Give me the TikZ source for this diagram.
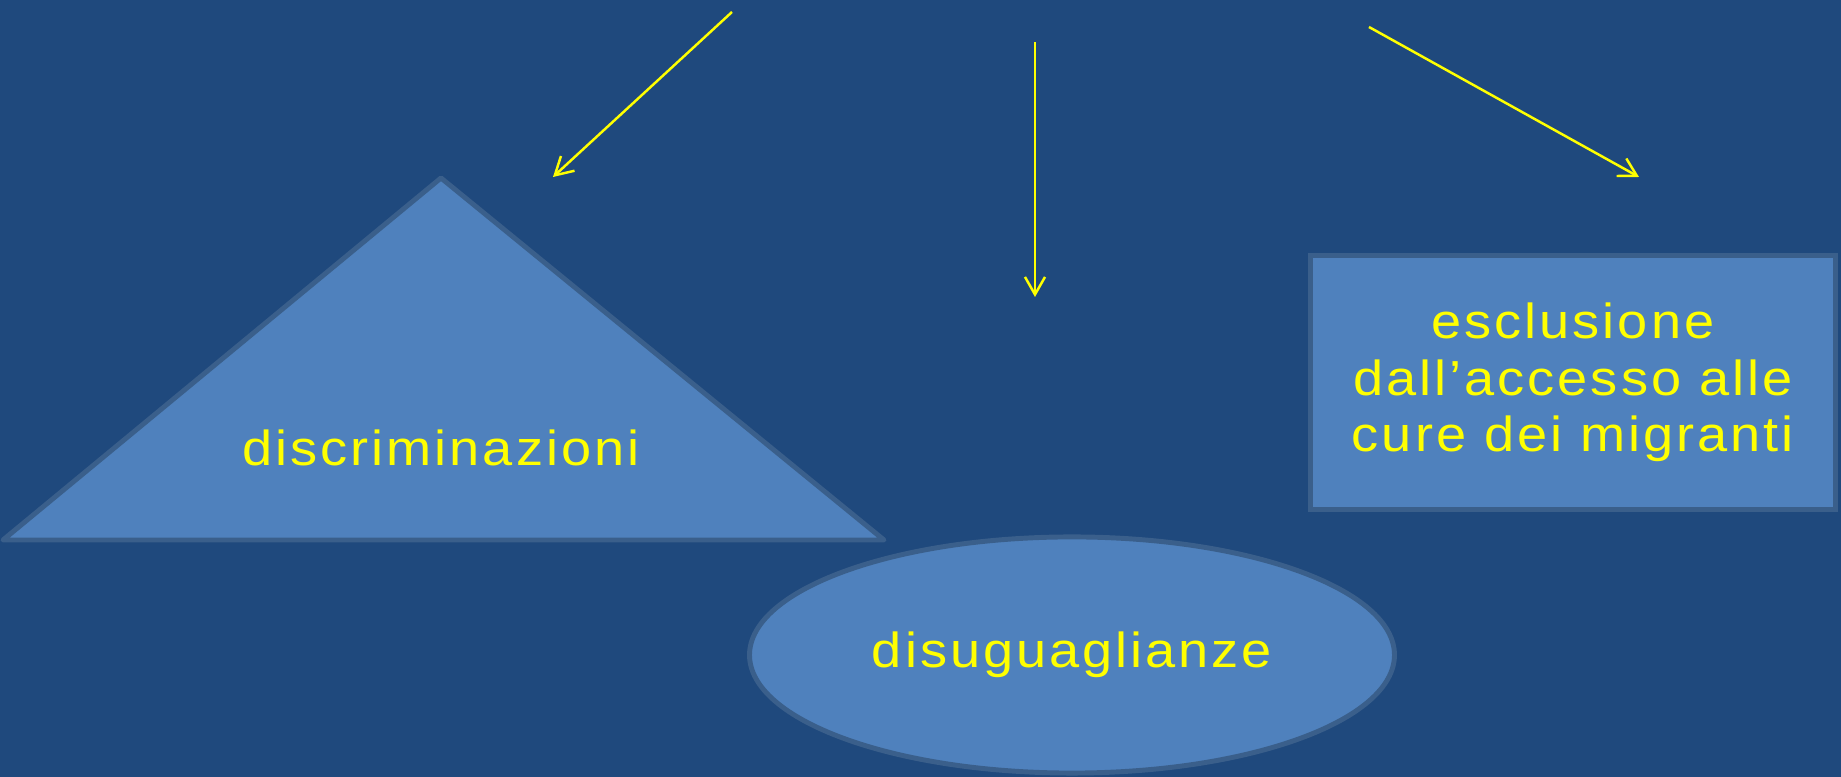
\documentclass[tikz,border=0pt]{standalone}
\usepackage{fontspec}
\setmainfont{Liberation Sans}[LetterSpace=5.5]
\usetikzlibrary{shapes.geometric,arrows.meta}

\definecolor{slidebg}{HTML}{1F497D}
\definecolor{shapefill}{HTML}{4F81BD}
\definecolor{shapeline}{HTML}{3A5F8B}
\definecolor{textyellow}{HTML}{FFFF00}

\begin{document}
\begin{tikzpicture}[x=0.01cm,y=-0.01cm,
  shapebody/.style={fill=shapefill,draw=shapeline,line width=1.4pt},
  slidetext/.style={text=textyellow,font=\fontsize{14}{16.1}\selectfont,xscale=1.1},
  pointer/.style={draw=textyellow,line width=0.7pt,-{Straight Barb[length=5pt,width=5.7pt]}}]

\fill[slidebg] (0,0) rectangle (1841,777);
\useasboundingbox (0,0) rectangle (1841,777);

% triangle
\coordinate (apex) at (441,178);
\coordinate (baseL) at (3,540);
\coordinate (baseR) at (884,540);
\filldraw[shapebody,line join=round] (baseL) -- (apex) -- (baseR) -- cycle;
\node[slidetext,anchor=base] (discr) at (441,466) {discriminazioni};

% ellipse (widths divided by the text stretch)
\node[shapebody,slidetext,ellipse,inner sep=0pt,
      minimum width=5.86cm,minimum height=2.36cm] (disug) at (1072,655) {disuguaglianze};

% box
\node[shapebody,slidetext,rectangle,inner sep=0pt,minimum width=4.77cm,minimum height=2.54cm,align=center] (escl) at (1573,382.5) {esclusione\\dall’accesso alle\\cure dei migranti};

% arrows
\coordinate (src1) at (732,12);
\coordinate (tip1) at (553,177);
\coordinate (src2) at (1035,42);
\coordinate (tip2) at (1035,297);
\coordinate (src3) at (1369,27);
\coordinate (tip3) at (1639,177);
\draw[pointer] (src1) -- (tip1);
\draw[pointer] (src2) -- (tip2);
\draw[pointer] (src3) -- (tip3);

\end{tikzpicture}
\end{document}
